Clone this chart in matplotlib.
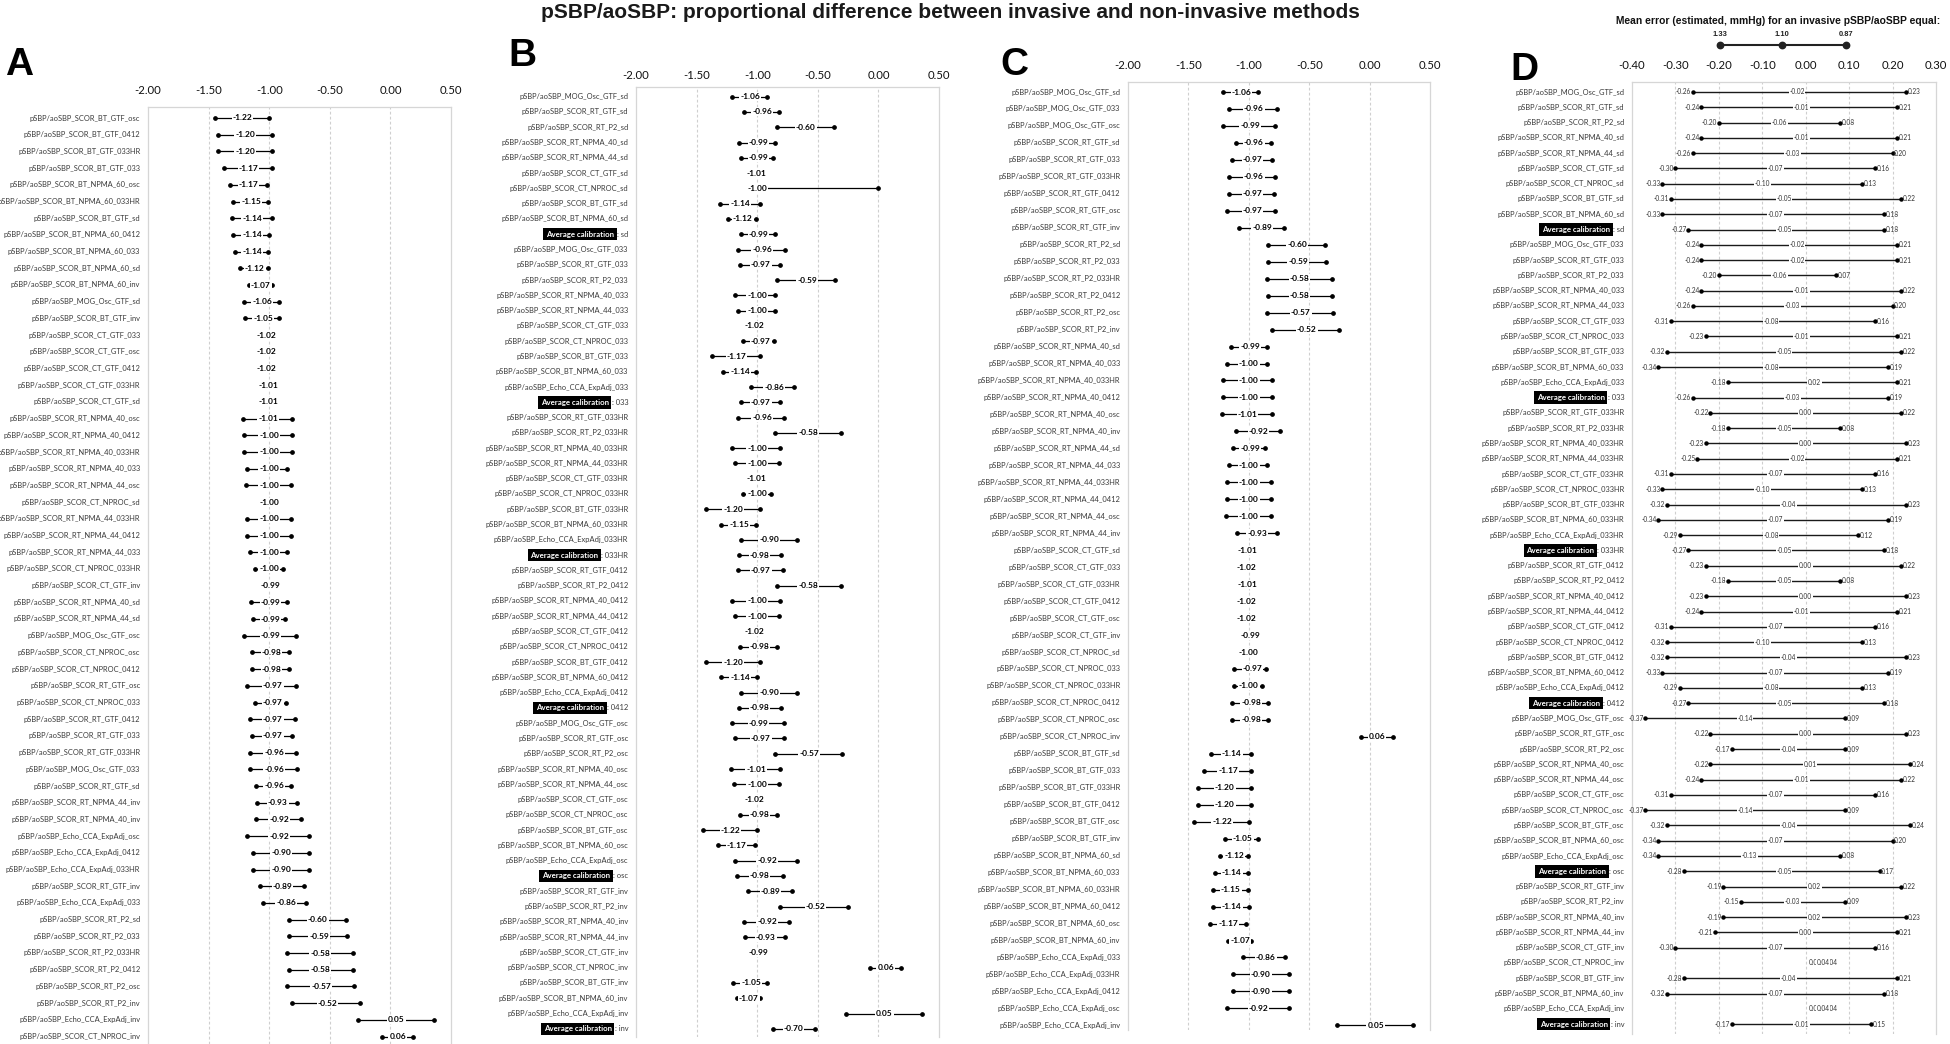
import matplotlib
matplotlib.use("Agg")
import matplotlib.pyplot as plt
import matplotlib.transforms as mtransforms

# ----------------------------------------------------------------- data
PREFIX = "pSBP/aoSBP_"

# panel A order (sorted by mean proportional difference)
methods = [
    "SCOR_BT_GTF_osc", "SCOR_BT_GTF_0412", "SCOR_BT_GTF_033HR", "SCOR_BT_GTF_033",
    "SCOR_BT_NPMA_60_osc", "SCOR_BT_NPMA_60_033HR", "SCOR_BT_GTF_sd", "SCOR_BT_NPMA_60_0412",
    "SCOR_BT_NPMA_60_033", "SCOR_BT_NPMA_60_sd", "SCOR_BT_NPMA_60_inv", "MOG_Osc_GTF_sd",
    "SCOR_BT_GTF_inv", "SCOR_CT_GTF_033", "SCOR_CT_GTF_osc", "SCOR_CT_GTF_0412",
    "SCOR_CT_GTF_033HR", "SCOR_CT_GTF_sd", "SCOR_RT_NPMA_40_osc", "SCOR_RT_NPMA_40_0412",
    "SCOR_RT_NPMA_40_033HR", "SCOR_RT_NPMA_40_033", "SCOR_RT_NPMA_44_osc", "SCOR_CT_NPROC_sd",
    "SCOR_RT_NPMA_44_033HR", "SCOR_RT_NPMA_44_0412", "SCOR_RT_NPMA_44_033", "SCOR_CT_NPROC_033HR",
    "SCOR_CT_GTF_inv", "SCOR_RT_NPMA_40_sd", "SCOR_RT_NPMA_44_sd", "MOG_Osc_GTF_osc",
    "SCOR_CT_NPROC_osc", "SCOR_CT_NPROC_0412", "SCOR_RT_GTF_osc", "SCOR_CT_NPROC_033",
    "SCOR_RT_GTF_0412", "SCOR_RT_GTF_033", "SCOR_RT_GTF_033HR", "MOG_Osc_GTF_033",
    "SCOR_RT_GTF_sd", "SCOR_RT_NPMA_44_inv", "SCOR_RT_NPMA_40_inv", "Echo_CCA_ExpAdj_osc",
    "Echo_CCA_ExpAdj_0412", "Echo_CCA_ExpAdj_033HR", "SCOR_RT_GTF_inv", "Echo_CCA_ExpAdj_033",
    "SCOR_RT_P2_sd", "SCOR_RT_P2_033", "SCOR_RT_P2_033HR", "SCOR_RT_P2_0412",
    "SCOR_RT_P2_osc", "SCOR_RT_P2_inv", "Echo_CCA_ExpAdj_inv", "SCOR_CT_NPROC_inv",
]
mean_diff = [
    -1.22, -1.20, -1.20, -1.17, -1.17, -1.15, -1.14, -1.14, -1.14, -1.12, -1.07, -1.06,
    -1.05, -1.02, -1.02, -1.02, -1.01, -1.01, -1.01, -1.00, -1.00, -1.00, -1.00, -1.00,
    -1.00, -1.00, -1.00, -1.00, -0.99, -0.99, -0.99, -0.99, -0.98, -0.98, -0.97, -0.97,
    -0.97, -0.97, -0.96, -0.96, -0.96, -0.93, -0.92, -0.92, -0.90, -0.90, -0.89, -0.86,
    -0.60, -0.59, -0.58, -0.58, -0.57, -0.52, 0.05, 0.06,
]
low_diff = [
    -1.45, -1.42, -1.42, -1.37, -1.32, -1.30, -1.31, -1.30, -1.28, -1.24, -1.17, -1.21,
    -1.20, -1.04, -1.04, -1.04, -1.03, -1.03, -1.22, -1.21, -1.21, -1.18, -1.19, -1.02,
    -1.18, -1.18, -1.16, -1.12, -1.01, -1.15, -1.13, -1.21, -1.14, -1.14, -1.18, -1.12,
    -1.16, -1.14, -1.16, -1.16, -1.11, -1.10, -1.11, -1.18, -1.13, -1.13, -1.08, -1.05,
    -0.84, -0.84, -0.85, -0.84, -0.85, -0.81, -0.27, -0.07,
]
high_diff = [
    -1.00, -0.98, -0.98, -0.98, -1.02, -1.01, -0.98, -1.00, -1.01, -1.01, -0.98, -0.92,
    -0.92, -1.00, -1.00, -1.00, -0.99, -0.99, -0.81, -0.81, -0.81, -0.85, -0.82, -0.98,
    -0.82, -0.82, -0.85, -0.89, -0.97, -0.85, -0.87, -0.78, -0.84, -0.84, -0.78, -0.86,
    -0.79, -0.81, -0.78, -0.77, -0.82, -0.77, -0.74, -0.67, -0.67, -0.67, -0.71, -0.70,
    -0.37, -0.36, -0.31, -0.31, -0.30, -0.25, 0.36, 0.19,
]

# average calibration rows (panel B / D)
avg_groups = ["sd", "033", "033HR", "0412", "osc", "inv"]
avg_mean = [-0.99, -0.97, -0.98, -0.98, -0.98, -0.70]
avg_low = [-1.13, -1.13, -1.15, -1.15, -1.17, -0.87]
avg_high = [-0.85, -0.81, -0.80, -0.80, -0.79, -0.52]

# panel B shows a wider interval for this one row
b_override = {"SCOR_CT_NPROC_sd": (-1.02, 0.00)}

order_b = [
    "MOG_Osc_GTF_sd", "SCOR_RT_GTF_sd", "SCOR_RT_P2_sd", "SCOR_RT_NPMA_40_sd", "SCOR_RT_NPMA_44_sd",
    "SCOR_CT_GTF_sd", "SCOR_CT_NPROC_sd", "SCOR_BT_GTF_sd", "SCOR_BT_NPMA_60_sd", "AVG:sd",
    "MOG_Osc_GTF_033", "SCOR_RT_GTF_033", "SCOR_RT_P2_033", "SCOR_RT_NPMA_40_033", "SCOR_RT_NPMA_44_033",
    "SCOR_CT_GTF_033", "SCOR_CT_NPROC_033", "SCOR_BT_GTF_033", "SCOR_BT_NPMA_60_033",
    "Echo_CCA_ExpAdj_033", "AVG:033",
    "SCOR_RT_GTF_033HR", "SCOR_RT_P2_033HR", "SCOR_RT_NPMA_40_033HR", "SCOR_RT_NPMA_44_033HR",
    "SCOR_CT_GTF_033HR", "SCOR_CT_NPROC_033HR", "SCOR_BT_GTF_033HR", "SCOR_BT_NPMA_60_033HR",
    "Echo_CCA_ExpAdj_033HR", "AVG:033HR",
    "SCOR_RT_GTF_0412", "SCOR_RT_P2_0412", "SCOR_RT_NPMA_40_0412", "SCOR_RT_NPMA_44_0412",
    "SCOR_CT_GTF_0412", "SCOR_CT_NPROC_0412", "SCOR_BT_GTF_0412", "SCOR_BT_NPMA_60_0412",
    "Echo_CCA_ExpAdj_0412", "AVG:0412",
    "MOG_Osc_GTF_osc", "SCOR_RT_GTF_osc", "SCOR_RT_P2_osc", "SCOR_RT_NPMA_40_osc", "SCOR_RT_NPMA_44_osc",
    "SCOR_CT_GTF_osc", "SCOR_CT_NPROC_osc", "SCOR_BT_GTF_osc", "SCOR_BT_NPMA_60_osc",
    "Echo_CCA_ExpAdj_osc", "AVG:osc",
    "SCOR_RT_GTF_inv", "SCOR_RT_P2_inv", "SCOR_RT_NPMA_40_inv", "SCOR_RT_NPMA_44_inv",
    "SCOR_CT_GTF_inv", "SCOR_CT_NPROC_inv", "SCOR_BT_GTF_inv", "SCOR_BT_NPMA_60_inv",
    "Echo_CCA_ExpAdj_inv", "AVG:inv",
]

order_c = [
    "MOG_Osc_GTF_sd", "MOG_Osc_GTF_033", "MOG_Osc_GTF_osc",
    "SCOR_RT_GTF_sd", "SCOR_RT_GTF_033", "SCOR_RT_GTF_033HR", "SCOR_RT_GTF_0412", "SCOR_RT_GTF_osc", "SCOR_RT_GTF_inv",
    "SCOR_RT_P2_sd", "SCOR_RT_P2_033", "SCOR_RT_P2_033HR", "SCOR_RT_P2_0412", "SCOR_RT_P2_osc", "SCOR_RT_P2_inv",
    "SCOR_RT_NPMA_40_sd", "SCOR_RT_NPMA_40_033", "SCOR_RT_NPMA_40_033HR", "SCOR_RT_NPMA_40_0412",
    "SCOR_RT_NPMA_40_osc", "SCOR_RT_NPMA_40_inv",
    "SCOR_RT_NPMA_44_sd", "SCOR_RT_NPMA_44_033", "SCOR_RT_NPMA_44_033HR", "SCOR_RT_NPMA_44_0412",
    "SCOR_RT_NPMA_44_osc", "SCOR_RT_NPMA_44_inv",
    "SCOR_CT_GTF_sd", "SCOR_CT_GTF_033", "SCOR_CT_GTF_033HR", "SCOR_CT_GTF_0412", "SCOR_CT_GTF_osc", "SCOR_CT_GTF_inv",
    "SCOR_CT_NPROC_sd", "SCOR_CT_NPROC_033", "SCOR_CT_NPROC_033HR", "SCOR_CT_NPROC_0412",
    "SCOR_CT_NPROC_osc", "SCOR_CT_NPROC_inv",
    "SCOR_BT_GTF_sd", "SCOR_BT_GTF_033", "SCOR_BT_GTF_033HR", "SCOR_BT_GTF_0412", "SCOR_BT_GTF_osc", "SCOR_BT_GTF_inv",
    "SCOR_BT_NPMA_60_sd", "SCOR_BT_NPMA_60_033", "SCOR_BT_NPMA_60_033HR", "SCOR_BT_NPMA_60_0412",
    "SCOR_BT_NPMA_60_osc", "SCOR_BT_NPMA_60_inv",
    "Echo_CCA_ExpAdj_033", "Echo_CCA_ExpAdj_033HR", "Echo_CCA_ExpAdj_0412", "Echo_CCA_ExpAdj_osc",
    "Echo_CCA_ExpAdj_inv",
]

# panel D: estimated mean error (mmHg) at invasive pSBP/aoSBP = 1.33 / 1.10 / 0.87, in order_b
err_133 = [
    -0.26, -0.24, -0.20, -0.24, -0.26, -0.30, -0.33, -0.31, -0.33, -0.27,
    -0.24, -0.24, -0.20, -0.24, -0.26, -0.31, -0.23, -0.32, -0.34, -0.18, -0.26,
    -0.22, -0.18, -0.23, -0.25, -0.31, -0.33, -0.32, -0.34, -0.29, -0.27,
    -0.23, -0.18, -0.23, -0.24, -0.31, -0.32, -0.32, -0.33, -0.29, -0.27,
    -0.37, -0.22, -0.17, -0.22, -0.24, -0.31, -0.37, -0.32, -0.34, -0.34, -0.28,
    -0.19, -0.15, -0.19, -0.21, -0.30, 0.04, -0.28, -0.32, 0.04, -0.17,
]
err_110 = [
    -0.02, -0.01, -0.06, -0.01, -0.03, -0.07, -0.10, -0.05, -0.07, -0.05,
    -0.02, -0.02, -0.06, -0.01, -0.03, -0.08, -0.01, -0.05, -0.08, 0.02, -0.03,
    0.00, -0.05, 0.00, -0.02, -0.07, -0.10, -0.04, -0.07, -0.08, -0.05,
    0.00, -0.05, 0.00, -0.01, -0.07, -0.10, -0.04, -0.07, -0.08, -0.05,
    -0.14, 0.00, -0.04, 0.01, -0.01, -0.07, -0.14, -0.04, -0.07, -0.13, -0.05,
    0.02, -0.03, 0.02, 0.00, -0.07, 0.04, -0.04, -0.07, 0.04, -0.01,
]
err_087 = [
    0.23, 0.21, 0.08, 0.21, 0.20, 0.16, 0.13, 0.22, 0.18, 0.18,
    0.21, 0.21, 0.07, 0.22, 0.20, 0.16, 0.21, 0.22, 0.19, 0.21, 0.19,
    0.22, 0.08, 0.23, 0.21, 0.16, 0.13, 0.23, 0.19, 0.12, 0.18,
    0.22, 0.08, 0.23, 0.21, 0.16, 0.13, 0.23, 0.19, 0.13, 0.18,
    0.09, 0.23, 0.09, 0.24, 0.22, 0.16, 0.09, 0.24, 0.20, 0.08, 0.17,
    0.22, 0.09, 0.23, 0.21, 0.16, 0.04, 0.21, 0.18, 0.04, 0.15,
]
legend_values = ["1.33", "1.10", "0.87"]

ticks_abc = [-2.0, -1.5, -1.0, -0.5, 0.0, 0.5]
ticks_d = [-0.4, -0.3, -0.2, -0.1, 0.0, 0.1, 0.2, 0.3]

# ----------------------------------------------------------------- style
W, H = 1950, 1044
FONT = ["Lato", "DejaVu Sans"]
HEAD = ["Liberation Sans", "DejaVu Sans"]
NARROW = ["Liberation Sans Narrow", "Liberation Sans", "DejaVu Sans"]
LABC = "#3a3a3a"
GRID = "#cfcfcf"

fig = plt.figure(figsize=(W / 100, H / 100), dpi=100)
fig.patch.set_facecolor("white")

base = {k: (m, lo, hi) for k, m, lo, hi in zip(methods, mean_diff, low_diff, high_diff)}
avg = {"AVG:" + g: (m, lo, hi) for g, m, lo, hi in zip(avg_groups, avg_mean, avg_low, avg_high)}


def make_axes(left, right, top, bottom, row0, spacing, xmin, xmax, ticks, pad):
    ax = fig.add_axes([left / W, 1 - bottom / H, (right - left) / W, (bottom - top) / H])
    ax.set_xlim(xmin, xmax)
    ax.set_ylim((bottom - row0) / spacing, -(row0 - top) / spacing)
    for s in ("left", "right", "top"):
        ax.spines[s].set_color("#d6d6d6")
        ax.spines[s].set_linewidth(0.9)
    ax.spines["bottom"].set_visible(False)
    ax.xaxis.tick_top()
    ax.set_xticks(ticks)
    ax.set_xticklabels([f"{t:.2f}" for t in ticks], fontfamily=FONT, fontsize=8.2, color="#111111")
    ax.tick_params(axis="x", length=0, pad=pad)
    ax.set_yticks([])
    for t in ticks[1:-1]:
        ax.axvline(t, color=GRID, lw=0.8, ls=(0, (2.5, 2)), zorder=0)
    ax.patch.set_alpha(0)
    return ax


def row_labels(ax, keys, gap=5.5):
    tr = mtransforms.blended_transform_factory(ax.transAxes, ax.transData) + \
        mtransforms.ScaledTranslation(-gap / 72, 0, fig.dpi_scale_trans)
    for i, k in enumerate(keys):
        if k.startswith("AVG:"):
            t = ax.text(0, i, ": " + k[4:], transform=tr, ha="right", va="center",
                        fontsize=5.4, color=LABC, fontfamily=FONT)
            ax.annotate("Average calibration", xy=(0, 0.5), xycoords=t, xytext=(-2.2, 0),
                        textcoords="offset points", ha="right", va="center", fontsize=5.7,
                        fontweight="bold", color="white", fontfamily=FONT,
                        bbox=dict(boxstyle="square,pad=0.35", fc="black", ec="none"))
        else:
            ax.text(0, i, PREFIX + k, transform=tr, ha="right", va="center",
                    fontsize=5.4, color=LABC, fontfamily=FONT)


def forest(ax, keys, lookup):
    for i, k in enumerate(keys):
        m, lo, hi = lookup(k)
        ax.plot([lo, hi], [i, i], color="black", lw=0.9, solid_capstyle="butt", zorder=2)
        ax.plot([lo, hi], [i, i], ls="none", marker="o", ms=2.4, color="black", zorder=3)
        ax.text(m, i, f"{m:.2f}", ha="center", va="center", fontsize=6.0, fontweight="bold",
                fontfamily=FONT, zorder=4,
                bbox=dict(boxstyle="square,pad=0.12", fc="white", ec="none"))


def look_a(k):
    return base[k]


def look_b(k):
    if k in avg:
        return avg[k]
    m, lo, hi = base[k]
    if k in b_override:
        lo, hi = b_override[k]
    return m, lo, hi


# ----------------------------------------------------------------- panels
axA = make_axes(148, 451, 107, 1044, 118, 16.7, -2.0, 0.5, ticks_abc, 8.0)
row_labels(axA, methods)
forest(axA, methods, look_a)

axB = make_axes(636, 939, 87, 1037, 96.7, 15.28, -2.0, 0.5, ticks_abc, 4.0)
row_labels(axB, order_b)
forest(axB, order_b, look_b)

axC = make_axes(1128, 1430, 82, 1030, 92, 16.97, -2.0, 0.5, ticks_abc, 8.0)
row_labels(axC, order_c)
forest(axC, order_c, look_a)

axD = make_axes(1632, 1936, 82, 1034, 92, 15.28, -0.4, 0.3, ticks_d, 8.0)
row_labels(axD, order_b)
for i, (lo, mid, hi) in enumerate(zip(err_133, err_110, err_087)):
    axD.plot([lo, hi], [i, i], color="#1a1a1a", lw=1.0, solid_capstyle="butt", zorder=2)
    axD.plot([lo, hi], [i, i], ls="none", marker="o", ms=2.2, color="black", zorder=3)
    axD.annotate(f"{lo:.2f}", xy=(lo, i), xytext=(-1.2, 0), textcoords="offset points",
                 ha="right", va="center", fontsize=4.7, color="#333333", fontfamily=FONT, zorder=4)
    axD.annotate(f"{hi:.2f}", xy=(hi, i), xytext=(1.2, 0), textcoords="offset points",
                 ha="left", va="center", fontsize=4.7, color="#333333", fontfamily=FONT, zorder=4)
    axD.text(mid, i, f"{mid:.2f}", ha="center", va="center", fontsize=4.7, color="#333333",
             fontfamily=FONT, zorder=5,
             bbox=dict(boxstyle="square,pad=0.1", fc="white", ec="none"))

# legend above panel D (schematic)
trL = mtransforms.blended_transform_factory(axD.transData, fig.transFigure)
leg_x = [-0.197, -0.054, 0.092]
axD.plot(leg_x, [1 - 45 / H] * 3, transform=trL, clip_on=False, color="#222222", lw=1.5,
         marker="o", ms=4.6, zorder=5)
for x, lab in zip(leg_x, legend_values):
    axD.text(x, 1 - 34 / H, lab, transform=trL, ha="center", va="center", fontsize=5.4,
             fontweight="bold", fontfamily=NARROW, color="#222222")
axD.text(-0.063, 1 - 21 / H, "Mean error (estimated, mmHg) for an invasive pSBP/aoSBP equal:",
         transform=trL, ha="center", va="center", fontsize=7.4, fontweight="bold",
         fontfamily=NARROW, color="#111111")

# title & panel letters
fig.text(950 / W, 1 - 13 / H, "pSBP/aoSBP: proportional difference between invasive and non-invasive methods",
         ha="center", va="center", fontsize=15, fontweight="bold", fontfamily=HEAD, color="#1a1a1a")
for letter, x, yb in (("A", 5, 75), ("B", 508, 66), ("C", 1000, 75), ("D", 1510, 80)):
    fig.text(x / W, 1 - yb / H, letter, ha="left", va="baseline", fontsize=28,
             fontweight="bold", fontfamily=HEAD, color="black")

fig.savefig("out.png", dpi=100, facecolor="white")
